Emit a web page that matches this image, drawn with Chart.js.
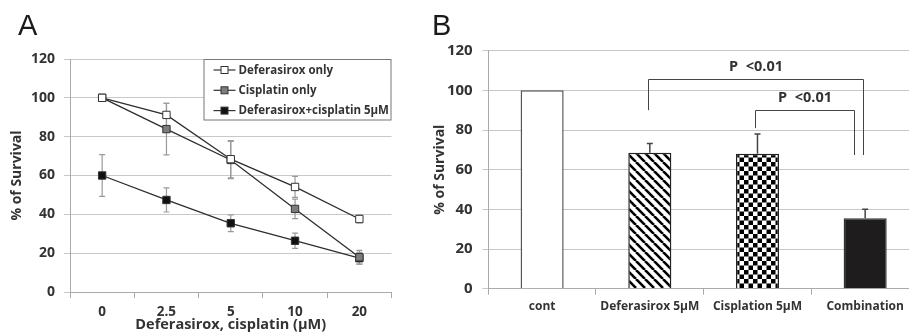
<!DOCTYPE html>
<html><head><meta charset="utf-8">
<script src="https://cdn.jsdelivr.net/npm/chart.js@4.4.0/dist/chart.umd.min.js"></script>
<style>
html,body{margin:0;padding:0;background:#fff;overflow:hidden;width:909px;height:332px;position:relative}
#wrapA{position:absolute;left:0;top:0;width:420px;height:337px}
#wrapB{position:absolute;left:420px;top:0;width:510px;height:332px}
.panel{position:absolute;font-family:'Liberation Sans',Arial,sans-serif;font-size:29px;color:#1a1a1a;line-height:29px}
</style></head>
<body>
<div id="wrapA"><canvas id="chartA" width="420" height="337"></canvas></div>
<div id="wrapB"><canvas id="chartB" width="510" height="332"></canvas></div>
<div class="panel" style="left:18px;top:11px">A</div>
<div class="panel" style="left:432px;top:11px">B</div>
<script>
// ---------- Panel A data ----------
const doseLabels = ['0', '2.5', '5', '10', '20'];
const deferasiroxOnly    = [100, 91.2, 68.4, 54.1, 37.6];
const deferasiroxOnlyErr = [0, 6.0, 9.6, 5.4, 2.0];
const cisplatinOnly      = [100, 83.9, 68.0, 42.8, 17.9];
const cisplatinOnlyErr   = [0, 13.3, 9.6, 5.0, 3.5];
const combo              = [60.0, 47.4, 35.4, 26.4, 17.4];
const comboErr           = [10.8, 6.2, 4.3, 3.9, 3.0];

// ---------- Panel B data ----------
const groupLabels = ['cont', 'Deferasirox 5μM', 'Cisplation 5μM', 'Combination'];
const survival    = [100, 68.5, 68.0, 35.5];
const survivalErr = [0, 4.7, 10.0, 4.5];
// significance brackets
const bracketFrom  = [1, 2];
const bracketTo    = [3, 3];
const bracketLevel = [105.6, 89.9];
const bracketLeftEnd  = [90, 81];
const bracketRightEnd = [67.4, 67.4];
const bracketText  = ['P  <0.01', 'P  <0.01'];

const FONT = "'Open Sans', 'Noto Sans', sans-serif";
const TXT = '#333';

// ---------- plugins ----------
const errorBarsA = {
  id: 'errorBarsA',
  beforeDatasetsDraw(chart) {
    const {ctx, scales: {x, y}} = chart;
    ctx.save();
    chart.data.datasets.forEach(ds => {
      const errs = ds.errors || [];
      ds.data.forEach((v, i) => {
        const e = errs[i];
        if (!e) return;
        const px = x.getPixelForValue(i);
        const top = y.getPixelForValue(v + e), bot = y.getPixelForValue(v - e);
        ctx.strokeStyle = '#9a9a9a';
        ctx.lineWidth = 1.2;
        ctx.beginPath();
        ctx.moveTo(px, top); ctx.lineTo(px, bot);
        ctx.moveTo(px - 3, top); ctx.lineTo(px + 3, top);
        ctx.moveTo(px - 3, bot); ctx.lineTo(px + 3, bot);
        ctx.stroke();
      });
    });
    ctx.restore();
  }
};

const legendA = {
  id: 'legendA',
  afterDraw(chart) {
    const {ctx, chartArea} = chart;
    const w = 188, h = 61.5;
    const left = chartArea.right - w, top = chartArea.top;
    ctx.save();
    ctx.fillStyle = '#fff';
    ctx.fillRect(left, top, w, h);
    ctx.strokeStyle = '#777';
    ctx.lineWidth = 1;
    ctx.strokeRect(left + 0.5, top + 0.5, w - 1, h - 1);
    ctx.font = "bold 11.5px " + FONT;
    ctx.textBaseline = 'middle';
    chart.data.datasets.forEach((ds, i) => {
      const cy = top + 11 + i * 20.3;
      ctx.strokeStyle = '#333';
      ctx.lineWidth = 1.2;
      ctx.beginPath();
      ctx.moveTo(left + 10, cy); ctx.lineTo(left + 32, cy);
      ctx.stroke();
      ctx.fillStyle = ds.pointBackgroundColor;
      ctx.fillRect(left + 17.5, cy - 3.5, 7, 7);
      ctx.strokeStyle = ds.pointBorderColor;
      ctx.lineWidth = 1;
      ctx.strokeRect(left + 17.5, cy - 3.5, 7, 7);
      ctx.fillStyle = TXT;
      ctx.fillText(ds.label, left + 35, cy + 0.5);
    });
    ctx.restore();
  }
};

function mkDataset(label, data, errs, fill) {
  return {
    label, data, errors: errs,
    borderColor: '#2e2e2e', borderWidth: 1.3,
    pointStyle: 'rect', pointRadius: 5.2,
    pointBackgroundColor: fill, pointBorderColor: '#333', pointBorderWidth: 1,
    tension: 0, fill: false
  };
}

new Chart(document.getElementById('chartA'), {
  type: 'line',
  data: {
    labels: doseLabels,
    datasets: [
      mkDataset('Deferasirox only', deferasiroxOnly, deferasiroxOnlyErr, '#ffffff'),
      mkDataset('Cisplatin only', cisplatinOnly, cisplatinOnlyErr, '#7d7d7d'),
      mkDataset('Deferasirox+cisplatin 5μM', combo, comboErr, '#111111')
    ]
  },
  options: {
    responsive: false, animation: false,
    layout: {padding: {left: 0, right: 28.5, top: 59, bottom: 0}},
    plugins: {legend: {display: false}, tooltip: {enabled: false}},
    scales: {
      x: {
        type: 'category', offset: true,
        grid: {offset: true, drawOnChartArea: false, drawTicks: true, tickLength: 6, color: '#aaa'},
        border: {color: '#aaa'},
        ticks: {color: TXT, font: {family: FONT, size: 13.5, weight: 'bold'}, padding: 6},
        title: {display: true, text: 'Deferasirox, cisplatin (μM)', color: TXT,
                font: {family: FONT, size: 14.5, weight: 'bold'}, padding: {top: 0, bottom: 3}},
        afterFit(s) { s.height = 45; }
      },
      y: {
        min: 0, max: 120,
        ticks: {stepSize: 20, color: TXT, font: {family: FONT, size: 14, weight: 'bold'}, padding: 9},
        grid: {color: '#c8c8c8', tickLength: 6},
        border: {color: '#aaa'},
        title: {display: true, text: '% of Survival', color: TXT,
                font: {family: FONT, size: 14, weight: 'bold'}, padding: {top: 9, bottom: 0}},
        afterFit(s) { s.width = 70; }
      }
    }
  },
  plugins: [errorBarsA, legendA]
});

// ---------- Panel B ----------
function stripePattern() {
  const c = document.createElement('canvas');
  c.width = 9; c.height = 9;
  const g = c.getContext('2d');
  g.fillStyle = '#fff'; g.fillRect(0, 0, 9, 9);
  g.strokeStyle = '#000'; g.lineWidth = 2.6;
  g.beginPath();
  for (const k of [-9, 0, 9]) { g.moveTo(k, 0); g.lineTo(k + 9, 9); }
  g.stroke();
  return g.createPattern(c, 'repeat');
}
function checkerPattern() {
  const c = document.createElement('canvas');
  c.width = 9; c.height = 9;
  const g = c.getContext('2d');
  g.fillStyle = '#fff'; g.fillRect(0, 0, 9, 9);
  g.fillStyle = '#000';
  g.fillRect(0, 0, 4.5, 4.5); g.fillRect(4.5, 4.5, 4.5, 4.5);
  return g.createPattern(c, 'repeat');
}

const errorBarsB = {
  id: 'errorBarsB',
  afterDatasetsDraw(chart) {
    const {ctx, scales: {x, y}} = chart;
    ctx.save();
    ctx.strokeStyle = '#444'; ctx.lineWidth = 1.5;
    survival.forEach((v, i) => {
      const e = survivalErr[i];
      if (!e) return;
      const px = x.getPixelForValue(i);
      const top = y.getPixelForValue(v + e), bot = y.getPixelForValue(v);
      ctx.beginPath();
      ctx.moveTo(px, bot); ctx.lineTo(px, top);
      ctx.moveTo(px - 3, top); ctx.lineTo(px + 3, top);
      ctx.stroke();
    });
    ctx.restore();
  }
};

const bracketsB = {
  id: 'bracketsB',
  afterDatasetsDraw(chart) {
    const {ctx, scales: {x, y}} = chart;
    const step = x.getPixelForValue(1) - x.getPixelForValue(0);
    const rightShift = [-0.02, -0.1];
    ctx.save();
    ctx.strokeStyle = '#444'; ctx.lineWidth = 1;
    ctx.font = "bold 14.5px " + FONT;
    ctx.fillStyle = TXT; ctx.textAlign = 'center'; ctx.textBaseline = 'middle';
    bracketFrom.forEach((f, k) => {
      const x1 = Math.round(x.getPixelForValue(f) - 0.02 * step) + 0.5;
      const x2 = Math.round(x.getPixelForValue(bracketTo[k]) + rightShift[k] * step) + 0.5;
      const yl = Math.round(y.getPixelForValue(bracketLevel[k])) + 0.5;
      ctx.beginPath();
      ctx.moveTo(x1, y.getPixelForValue(bracketLeftEnd[k]));
      ctx.lineTo(x1, yl); ctx.lineTo(x2, yl);
      ctx.lineTo(x2, y.getPixelForValue(bracketRightEnd[k]));
      ctx.stroke();
      ctx.fillText(bracketText[k], (x1 + x2) / 2, yl - 13);
    });
    ctx.restore();
  }
};

new Chart(document.getElementById('chartB'), {
  type: 'bar',
  data: {
    labels: groupLabels,
    datasets: [{
      data: survival,
      backgroundColor: ['#ffffff', stripePattern(), checkerPattern(), '#1e1c1d'],
      borderColor: ['#555', '#222', '#222', '#333'],
      borderWidth: 1.5,
      barPercentage: 0.4, categoryPercentage: 1
    }]
  },
  options: {
    responsive: false, animation: false,
    layout: {padding: {left: 0, right: 11, top: 50.7, bottom: 0}},
    plugins: {legend: {display: false}, tooltip: {enabled: false}},
    scales: {
      x: {
        grid: {offset: true, drawOnChartArea: false, drawTicks: true, tickLength: 6, color: '#aaa'},
        border: {color: '#aaa'},
        ticks: {color: TXT, font: {family: FONT, size: 12, weight: 'bold'}, padding: 4.8},
        afterFit(s) { s.height = 43.3; }
      },
      y: {
        min: 0, max: 120,
        ticks: {stepSize: 20, color: TXT, font: {family: FONT, size: 15, weight: 'bold'}, padding: 9.6},
        grid: {color: '#c8c8c8', tickLength: 6},
        border: {color: '#aaa'},
        title: {display: true, text: '% of Survival', color: TXT,
                font: {family: FONT, size: 14, weight: 'bold'}, padding: {top: 11.6, bottom: 0}},
        afterFit(s) { s.width = 68.3; }
      }
    }
  },
  plugins: [errorBarsB, bracketsB]
});
</script>
</body></html>
